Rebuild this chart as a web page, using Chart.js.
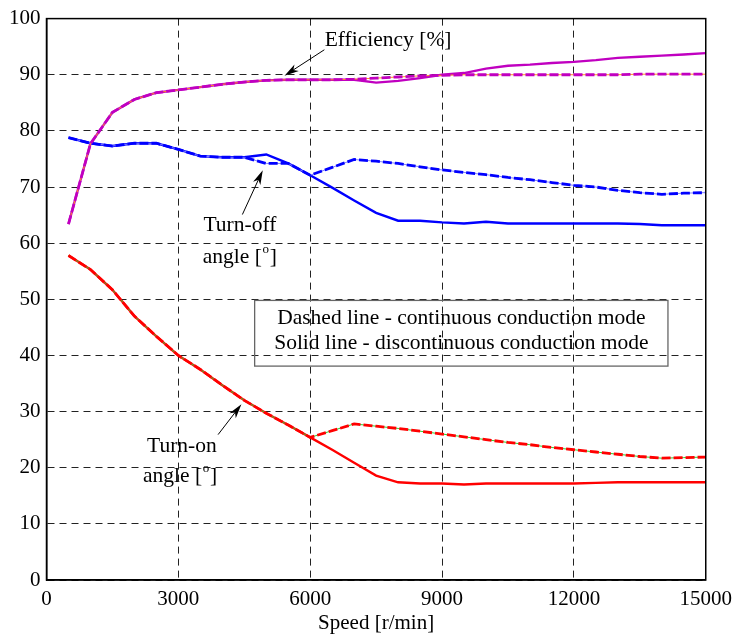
<!DOCTYPE html>
<html>
<head>
  <meta charset="UTF-8" />
  <title>Speed characteristics</title>
  <script src="https://cdn.jsdelivr.net/npm/chart.js"></script>
  <style>
    html, body { margin: 0; padding: 0; background: #fff; }
    #wrap { width: 739px; height: 636px; }
  </style>
</head>
<body>
<div id="wrap"><canvas id="speedChart"></canvas></div>

<script>
  // speed [r/min]
  const speeds = [500, 1000, 1500, 2000, 2500, 3000, 3500, 4000, 4500, 5000,
                  5500, 6000, 6500, 7000, 7500, 8000, 8500, 9000, 9500, 10000,
                  10500, 11000, 11500, 12000, 12500, 13000, 13500, 14000, 14500, 15000];

  // solid = discontinuous conduction, dashed = continuous conduction
  const effSolid = [63.4, 77.7, 83.3, 85.6, 86.8, 87.3, 87.8, 88.3, 88.7, 89.0,
                    89.1, 89.1, 89.1, 89.1, 88.6, 88.9, 89.4, 90.0, 90.3, 91.1,
                    91.6, 91.8, 92.1, 92.3, 92.6, 93.0, 93.2, 93.4, 93.6, 93.85];
  const effDashed = [63.4, 77.7, 83.3, 85.6, 86.8, 87.3, 87.8, 88.3, 88.7, 89.0,
                     89.1, 89.1, 89.1, 89.2, 89.4, 89.6, 89.8, 89.9, 90.0, 90.0,
                     90.0, 90.0, 90.0, 90.0, 90.0, 90.0, 90.1, 90.1, 90.1, 90.1];
  const offSolid = [78.8, 77.8, 77.3, 77.8, 77.8, 76.7, 75.5, 75.3, 75.3, 75.8,
                    74.2, 72.1, 69.9, 67.6, 65.4, 64.0, 64.0, 63.7, 63.5, 63.8,
                    63.5, 63.5, 63.5, 63.5, 63.5, 63.5, 63.4, 63.2, 63.2, 63.2];
  const offDashed = [78.8, 77.8, 77.3, 77.8, 77.8, 76.7, 75.5, 75.3, 75.3, 74.2,
                     74.2, 72.1, 73.5, 74.9, 74.6, 74.2, 73.6, 73.05, 72.6, 72.2,
                     71.7, 71.3, 70.8, 70.3, 70.0, 69.4, 69.0, 68.7, 68.9, 69.0];
  const onSolid = [57.8, 55.3, 51.7, 47.0, 43.4, 40.0, 37.5, 34.7, 32.0, 29.7,
                   27.6, 25.4, 23.2, 20.9, 18.6, 17.4, 17.2, 17.2, 17.0, 17.2,
                   17.2, 17.2, 17.2, 17.2, 17.3, 17.4, 17.4, 17.4, 17.4, 17.4];
  const onDashed = [57.8, 55.3, 51.7, 47.0, 43.4, 40.0, 37.5, 34.7, 32.0, 29.7,
                    27.6, 25.4, 26.6, 27.8, 27.4, 27.0, 26.5, 26.0, 25.5, 25.0,
                    24.5, 24.1, 23.6, 23.2, 22.8, 22.4, 22.0, 21.7, 21.8, 21.9];

  const xTicks = [0, 3000, 6000, 9000, 12000, 15000];
  const yTicks = [0, 10, 20, 30, 40, 50, 60, 70, 80, 90, 100];

  const FONT = '"Liberation Serif", "Times New Roman", serif';
  const NOTE_SIZE = 21.5;

  function pts(values) {
    return values.map((v, i) => ({ x: speeds[i], y: v }));
  }

  function line(values, color, width, dash, order) {
    return {
      data: pts(values),
      borderColor: color,
      borderWidth: width,
      borderDash: dash || [],
      pointRadius: 0,
      fill: false,
      tension: 0,
      order: order
    };
  }

  // text, arrows and the note box, placed in data coordinates
  const notes = {
    id: 'notes',
    afterDatasetsDraw(chart) {
      const ctx = chart.ctx;
      const xs = chart.scales.x, ys = chart.scales.y;
      const P = (x, y) => [xs.getPixelForValue(x), ys.getPixelForValue(y)];

      function arrow(x0, y0, x1, y1) {
        const [a, b] = P(x0, y0), [c, d] = P(x1, y1);
        const ang = Math.atan2(d - b, c - a);
        const len = 15, half = 0.27;
        ctx.save();
        ctx.strokeStyle = '#000';
        ctx.fillStyle = '#000';
        ctx.lineWidth = 1;
        ctx.beginPath();
        ctx.moveTo(a, b);
        ctx.lineTo(c - Math.cos(ang) * 6, d - Math.sin(ang) * 6);
        ctx.stroke();
        ctx.beginPath();
        ctx.moveTo(c, d);
        ctx.lineTo(c - len * Math.cos(ang - half), d - len * Math.sin(ang - half));
        ctx.lineTo(c - len * 0.7 * Math.cos(ang), d - len * 0.7 * Math.sin(ang));
        ctx.lineTo(c - len * Math.cos(ang + half), d - len * Math.sin(ang + half));
        ctx.closePath();
        ctx.fill();
        ctx.restore();
      }

      function text(str, x, y) {
        const [a, b] = P(x, y);
        ctx.save();
        ctx.font = NOTE_SIZE + 'px ' + FONT;
        ctx.fillStyle = '#000';
        ctx.textAlign = 'center';
        ctx.textBaseline = 'middle';
        ctx.fillText(str, a, b);
        ctx.restore();
      }

      function angleLabel(x, y) {
        const [a, b] = P(x, y);
        ctx.save();
        ctx.font = NOTE_SIZE + 'px ' + FONT;
        ctx.fillStyle = '#000';
        ctx.textBaseline = 'middle';
        const left = 'angle [', right = ']', gw = 8;
        const w = ctx.measureText(left + right).width + gw;
        let cx = a - w / 2;
        ctx.textAlign = 'left';
        ctx.fillText(left, cx, b);
        cx += ctx.measureText(left).width;
        ctx.font = '13px ' + FONT;
        ctx.textAlign = 'center';
        ctx.fillText('o', cx + gw / 2, b - 8);
        ctx.font = NOTE_SIZE + 'px ' + FONT;
        ctx.textAlign = 'left';
        ctx.fillText(right, cx + gw, b);
        ctx.restore();
      }

      text('Efficiency [%]', 7772, 96.1);
      arrow(6322, 94.45, 5416, 89.84);

      text('Turn-off', 4400, 63.2);
      angleLabel(4400, 57.4);
      arrow(4457, 65.1, 4921, 73.0);

      text('Turn-on', 3080, 23.8);
      angleLabel(3040, 18.5);
      arrow(3904, 25.9, 4435, 31.3);

      // note box
      const [bx0, by0] = P(4736, 49.8), [bx1, by1] = P(14140, 38.1);
      ctx.save();
      ctx.strokeStyle = '#666';
      ctx.lineWidth = 1.3;
      ctx.strokeRect(bx0, by0, bx1 - bx0, by1 - by0);
      ctx.restore();
      text('Dashed line - continuous conduction mode', 9440, 46.6);
      text('Solid line - discontinuous conduction mode', 9440, 42.2);

      // frame
      const ca = chart.chartArea;
      ctx.save();
      ctx.strokeStyle = '#000';
      ctx.lineWidth = 1.5;
      ctx.strokeRect(ca.left, ca.top, ca.right - ca.left, ca.bottom - ca.top);
      ctx.restore();
    }
  };

  const chartConfig = {
    type: 'line',
    data: {
      datasets: [
        line(effSolid, '#c000c0', 2.4, null, 6),
        line(effDashed, '#ff9020', 1, null, 5),
        line(effDashed, '#c000c0', 2.8, [9, 3], 4),
        line(offSolid, '#0000ff', 2.4, null, 6),
        line(offDashed, '#8080ff', 1, null, 5),
        line(offDashed, '#0000ff', 2.8, [9, 3], 4),
        line(onSolid, '#ff0000', 2.4, null, 6),
        line(onDashed, '#30d030', 1, null, 5),
        line(onDashed, '#ff0000', 2.8, [9, 3], 4)
      ]
    },
    options: {
      responsive: true,
      maintainAspectRatio: false,
      animation: false,
      layout: { padding: { top: 16, right: 30, left: 0, bottom: 0 } },
      plugins: {
        legend: { display: false },
        tooltip: { enabled: false }
      },
      scales: {
        x: {
          type: 'linear',
          min: 0,
          max: 15000,
          afterFit(scale) { scale.height = 56; },
          afterBuildTicks(scale) { scale.ticks = xTicks.map(v => ({ value: v })); },
          grid: {
            color: '#222',
            lineWidth: 1,
            drawTicks: false
          },
          border: { display: true, color: '#000', width: 1.5, dash: [7, 5] },
          ticks: {
            color: '#000',
            padding: 7,
            maxRotation: 0,
            font: { family: FONT, size: 21 },
            callback: v => String(v)
          },
          title: {
            display: true,
            text: 'Speed [r/min]',
            color: '#000',
            padding: { top: 0, bottom: 0 },
            font: { family: FONT, size: 21 }
          }
        },
        y: {
          min: 0,
          max: 100,
          afterFit(scale) { scale.width = 46.5; },
          afterBuildTicks(scale) { scale.ticks = yTicks.map(v => ({ value: v })); },
          grid: {
            color: '#222',
            lineWidth: 1,
            drawTicks: false
          },
          border: { display: true, color: '#000', width: 1.5, dash: [7, 5] },
          ticks: {
            color: '#000',
            padding: 6,
            font: { family: FONT, size: 21 }
          }
        }
      }
    },
    plugins: [notes]
  };

  new Chart(document.getElementById('speedChart'), chartConfig);
</script>
</body>
</html>
